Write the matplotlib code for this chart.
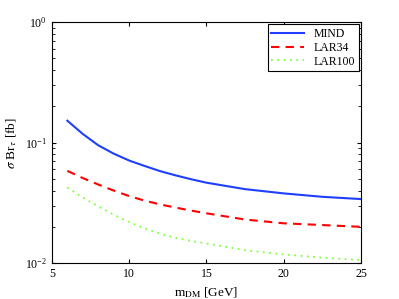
import matplotlib
matplotlib.use("Agg")
import matplotlib.pyplot as plt

plt.rcParams['font.family'] = 'Liberation Serif'
plt.rcParams['mathtext.fontset'] = 'stix'

m_dm = [6, 7, 8, 9, 10, 11, 12, 13, 14, 15, 17.5, 20, 22.5, 25]
mind = [0.152, 0.118, 0.095, 0.081, 0.071, 0.064, 0.058, 0.0535, 0.0497, 0.0465, 0.0411, 0.0379, 0.0355, 0.034]
lar34 = [0.0583, 0.0508, 0.0449, 0.0400, 0.0360, 0.0330, 0.0307, 0.0289, 0.0273, 0.0259, 0.0230, 0.0214, 0.0207, 0.020]
lar100 = [0.0425, 0.0350, 0.0296, 0.0252, 0.0219, 0.0194, 0.0176, 0.0162, 0.0153, 0.01456, 0.0128, 0.0118, 0.0111, 0.0106]

fig = plt.figure(figsize=(3.99, 2.99), dpi=100)
ax = fig.add_axes([0.130, 0.120, 0.775, 0.806])

ax.plot(m_dm, mind, color='#1f3fff', linestyle='-', linewidth=1.5, label='MIND')
ax.plot(m_dm, lar34, color='red', linestyle=(0, (4, 3)), linewidth=1.5, label='LAR34')
ax.plot(m_dm, lar100, color='#80ff40', linestyle=(0, (1, 2.5)), linewidth=1.3, label='LAR100')

ax.set_yscale('log')
ax.set_xlim(5, 25)
ax.set_ylim(1e-2, 1e0)
ax.set_xticks([5, 10, 15, 20, 25])
ax.tick_params(which='both', direction='in', top=True, right=True, labelsize=8.5)
ax.tick_params(which='major', length=3)
ax.tick_params(which='minor', length=2)

ax.set_xlabel(r'm$_{\rm DM}$ [GeV]', fontsize=9.5)
ax.set_ylabel(r'$\sigma$ Br$_\tau$ [fb]', fontsize=9.5)

leg = ax.legend(loc='upper right', fontsize=8.5, fancybox=False, edgecolor='black',
                framealpha=1, borderaxespad=0.2, handlelength=2.8, labelspacing=0.15,
                borderpad=0.3)
leg.get_frame().set_linewidth(0.8)

fig.savefig('out.png', dpi=100)
